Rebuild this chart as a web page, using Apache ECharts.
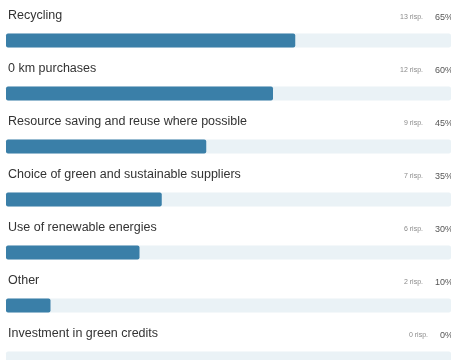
<!DOCTYPE html>
<html>
<head>
<meta charset="utf-8">
<script src="https://cdn.jsdelivr.net/npm/echarts@6/dist/echarts.min.js"></script>
<style>
  html, body { margin: 0; padding: 0; background: #ffffff; }
  #chart { width: 451px; height: 360px; }
</style>
</head>
<body>
<div id="chart"></div>
<script>
// Survey answers: one row per option
const categories = [
  'Recycling',
  '0 km purchases',
  'Resource saving and reuse where possible',
  'Choice of green and sustainable suppliers',
  'Use of renewable energies',
  'Other',
  'Investment in green credits'
];
const responses = [13, 12, 9, 7, 6, 2, 0];
const percentages = [65, 60, 45, 35, 30, 10, 0];
const trackMax = 100;

const chart = echarts.init(document.getElementById('chart'), null, { renderer: 'canvas' });

const fontFamily = '"Liberation Sans", Helvetica, Arial, sans-serif';

chart.setOption({
  animation: false,
  backgroundColor: '#ffffff',
  // the last row runs past the bottom edge, so the grid is allowed to overflow
  grid: { left: 6, right: 0, top: 14, height: 371, outerBoundsMode: 'none', containLabel: false },
  xAxis: { type: 'value', min: 0, max: trackMax, show: false },
  yAxis: {
    type: 'category',
    data: categories,
    inverse: true,
    show: false
  },
  series: [
    {
      // light full-width track, carrying the response count and percentage
      name: 'track',
      type: 'bar',
      silent: true,
      barWidth: 14,
      barGap: '-100%',
      itemStyle: { color: '#eaf2f6', borderRadius: 2 },
      data: categories.map(() => trackMax),
      label: {
        show: true,
        position: ['100%', -16],
        align: 'right',
        verticalAlign: 'middle',
        offset: [2, 0],
        formatter: (p) => '{n|' + responses[p.dataIndex] + ' risp.}{p|' + percentages[p.dataIndex] + '%}',
        rich: {
          n: { fontFamily, fontSize: 7, color: '#8a8a8a', padding: [0, 12, 0, 0] },
          p: { fontFamily, fontSize: 9, color: '#555555' }
        }
      },
      z: 1
    },
    {
      // filled share, carrying the option name above it
      name: 'share',
      type: 'bar',
      barWidth: 14,
      barGap: '-100%',
      itemStyle: { color: '#3a7fa8', borderRadius: 2 },
      data: percentages,
      label: {
        show: true,
        position: [2, -18],
        align: 'left',
        verticalAlign: 'middle',
        formatter: (p) => categories[p.dataIndex],
        fontFamily,
        fontSize: 12.5,
        color: '#333333'
      },
      z: 2
    }
  ]
});
</script>
</body>
</html>
